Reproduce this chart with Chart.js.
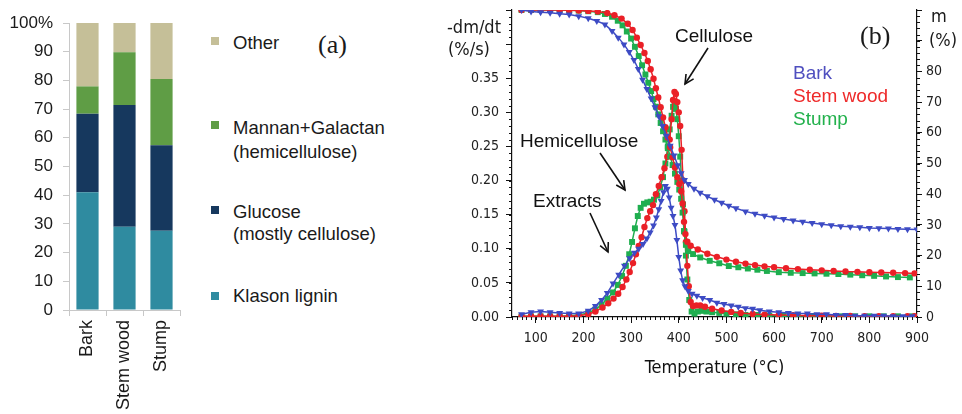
<!DOCTYPE html>
<html>
<head>
<meta charset="utf-8">
<script src="https://cdn.jsdelivr.net/npm/chart.js@4.4.1/dist/chart.umd.min.js"></script>
<style>
  body { margin: 0; background: #fff; width: 962px; height: 414px; overflow: hidden; position: relative;
         font-family: "Liberation Sans", Arial, sans-serif; color: #1a1a1a; }
  canvas { position: absolute; top: 0; }
  #compChart { left: 0; }
  #tgChart { left: 420px; }
  .t { position: absolute; white-space: nowrap; line-height: 1; transform: translateY(-50%); }
  .leg { font-size: 18.5px; }
  .sq { position: absolute; width: 8px; height: 8px; }
  .tah { font-family: "DejaVu Sans Condensed", "DejaVu Sans", sans-serif; font-size: 18px; }
  .ann { font-size: 19px; color: #111; }
  .serif { font-family: "Liberation Serif", "Times New Roman", serif; font-size: 26px; }
  svg { position: absolute; left: 0; top: 0; pointer-events: none; }
</style>
</head>
<body>
<canvas id="compChart" width="200" height="414"></canvas>
<canvas id="tgChart" width="542" height="414"></canvas>

<!-- legend (a) -->
<div class="sq" style="left:211px;top:37px;background:#c5bf98"></div>
<div class="t leg" style="left:233px;top:43px">Other</div>
<div class="sq" style="left:211px;top:121px;background:#5f9d45"></div>
<div class="t leg" style="left:233px;top:128px">Mannan+Galactan</div>
<div class="t leg" style="left:233px;top:152px">(hemicellulose)</div>
<div class="sq" style="left:211px;top:206px;background:#16385e"></div>
<div class="t leg" style="left:233px;top:212px">Glucose</div>
<div class="t leg" style="left:233px;top:234px">(mostly cellulose)</div>
<div class="sq" style="left:211px;top:292px;background:#2f8ba0"></div>
<div class="t leg" style="left:233px;top:296px">Klason lignin</div>
<div class="t serif" style="left:318px;top:45px">(a)</div>

<!-- panel (b) texts -->
<div class="t tah" style="left:447px;top:27px">-dm/dt</div>
<div class="t tah" style="left:448px;top:49px">(%/s)</div>
<div class="t tah" style="left:931px;top:16px">m</div>
<div class="t tah" style="left:929px;top:40px">(%)</div>
<div class="t serif" style="left:860px;top:36px">(b)</div>
<div class="t ann" style="left:793px;top:72px;color:#4f4fbf">Bark</div>
<div class="t ann" style="left:793px;top:95px;color:#ee2a2a">Stem wood</div>
<div class="t ann" style="left:793px;top:118px;color:#22b14c">Stump</div>
<div class="t ann" style="left:675px;top:35px">Cellulose</div>
<div class="t ann" style="left:520px;top:140px">Hemicellulose</div>
<div class="t ann" style="left:533px;top:200px">Extracts</div>

<svg width="962" height="414">
  <defs>
    <marker id="ah" markerWidth="12" markerHeight="12" refX="10" refY="5" orient="auto" markerUnits="userSpaceOnUse">
      <path d="M1,0.5 L10,5 L1,9.5" fill="none" stroke="#111" stroke-width="1.6"/>
    </marker>
  </defs>
  <line x1="708" y1="48" x2="685" y2="84" stroke="#111" stroke-width="1.6" marker-end="url(#ah)"/>
  <line x1="600" y1="153" x2="625" y2="190" stroke="#111" stroke-width="1.6" marker-end="url(#ah)"/>
  <line x1="590" y1="213" x2="608" y2="252" stroke="#111" stroke-width="1.6" marker-end="url(#ah)"/>
</svg>

<script>
// ---- panel (a): composition, % ----
const samples = ['Bark', 'Stem wood', 'Stump'];
const lignin  = [41.0, 29.0, 27.6];
const glucose = [27.4, 42.4, 29.8];
const mannan  = [9.5, 18.4, 23.1];
const other   = [22.1, 10.2, 19.5];

// ---- panel (b): mass m (%) vs temperature ----
const barkMassT = [70, 90, 110, 130, 150, 170, 190, 210, 228, 245, 260, 273, 285, 296, 306, 315, 324, 333, 342, 350,
  358, 366, 374, 382, 390, 398, 405, 412, 420, 432, 445, 460, 475, 490, 505, 520, 540, 560, 580, 600,
  620, 640, 660, 680, 700, 720, 740, 760, 780, 800, 820, 840, 860, 880, 900];
const barkMass = [100, 99.5, 99.3, 99.1, 98.8, 98.5, 98, 97.3, 96.4, 95.3, 93.2, 91, 88.8, 86.3, 83.7, 80.8, 77.3, 74.3, 71.2, 68.3,
  65.4, 62.2, 59, 55.8, 52.6, 49.4, 46.8, 44.6, 43.3, 41.8, 40.5, 39.3, 38.2, 37.2, 36.2, 35.4, 34.4, 33.6, 33, 32.4,
  31.9, 31.4, 31, 30.6, 30.2, 29.9, 29.6, 29.4, 29.2, 29.0, 28.9, 28.8, 28.7, 28.6, 28.5];

const stemMassT = [70, 90, 110, 130, 150, 170, 190, 210, 230, 250, 265, 280, 293, 303, 312, 320, 328, 335, 341, 347,
  352, 357, 362, 367, 372, 377, 382, 387, 392, 397, 401, 405, 408, 411, 414, 418, 425, 440, 460, 480,
  500, 520, 540, 560, 580, 600, 625, 650, 675, 700, 725, 750, 775, 800, 825, 850, 875, 895];
const stemMass = [100, 100, 100, 100, 100, 99.9, 99.8, 99.7, 99.5, 99, 98.3, 97.2, 95.5, 93.5, 91, 88.6, 86, 83.4, 80.7, 77.6,
  74.5, 71.5, 68.3, 65, 61.8, 58.5, 55.3, 52, 48.7, 45.5, 43.3, 41, 37, 31, 27, 24.5, 23.2, 22, 20.6, 19.6,
  18.7, 18, 17.4, 16.9, 16.5, 16.2, 15.9, 15.6, 15.4, 15.2, 15.0, 14.8, 14.7, 14.6, 14.5, 14.4, 14.3, 14.2];

const stumpMassT = [70, 90, 110, 130, 150, 170, 190, 210, 230, 245, 260, 272, 282, 291, 300, 308, 316, 323, 330, 336,
  342, 347, 352, 357, 362, 367, 372, 377, 382, 387, 392, 397, 401, 405, 408, 411, 415, 420, 430, 445,
  465, 485, 505, 525, 545, 565, 585, 610, 635, 660, 685, 710, 735, 760, 785, 810, 835, 860, 885];
const stumpMass = [100, 100, 100, 100, 100, 99.9, 99.8, 99.6, 99.3, 98.7, 97.8, 96.5, 95, 93, 90.7, 88, 85, 82, 79, 76.3,
  73.6, 71, 68.5, 66, 63.2, 60.5, 57.8, 55, 52.3, 49.5, 46.7, 44, 41.5, 38.5, 34, 28, 23.5, 21.5, 20.5, 19.4,
  18.3, 17.5, 16.6, 16.2, 15.8, 15.4, 15.0, 14.6, 14.4, 14.3, 14.2, 14.1, 14.0, 13.8, 13.6, 13.4, 13.2, 13.0, 12.9];

// ---- panel (b): mass loss rate -dm/dt (%/s) vs temperature ----
const barkRateT = [70, 90, 110, 130, 150, 170, 190, 210, 225, 238, 250, 262, 274, 286, 297, 307,
  316, 325, 333, 340, 347, 353, 358, 363, 368, 372, 376, 380, 384, 388, 392, 396,
  400, 404, 408, 413, 420, 428, 438, 450, 465, 480, 495, 510, 525, 540, 555, 570,
  590, 610, 630, 650, 670, 690, 710, 730, 750, 770, 790, 810, 830, 850, 870, 890];
const barkRate = [0.004, 0.007, 0.008, 0.007, 0.006, 0.005, 0.005, 0.009, 0.016, 0.025, 0.035, 0.049, 0.062, 0.075, 0.086, 0.094,
  0.1, 0.107, 0.115, 0.124, 0.134, 0.146, 0.158, 0.17, 0.183, 0.192, 0.188, 0.175, 0.16, 0.148, 0.135, 0.113,
  0.088, 0.068, 0.054, 0.045, 0.038, 0.034, 0.031, 0.028, 0.025, 0.021, 0.019, 0.017, 0.015, 0.013, 0.012, 0.01,
  0.008, 0.007, 0.006, 0.005, 0.005, 0.004, 0.004, 0.003, 0.003, 0.002, 0.002, 0.002, 0.002, 0.001, 0.001, 0.001];

const stemRateT = [70, 90, 110, 130, 150, 170, 190, 210, 225, 240, 252, 263, 273, 282, 290, 297,
  304, 310, 316, 322, 328, 334, 340, 346, 352, 358, 364, 370, 376, 381, 385, 388,
  391, 394, 397, 400, 403, 406, 409, 412, 415, 418, 421, 425, 430, 437, 445, 455,
  470, 490, 510, 530, 555, 580, 610, 640, 670, 700, 730, 760, 790, 820, 850, 880, 895];
const stemRate = [0.001, 0.001, 0.001, 0.001, 0.001, 0.001, 0.002, 0.004, 0.008, 0.014, 0.02, 0.027, 0.034, 0.044, 0.055, 0.066,
  0.079, 0.092, 0.104, 0.117, 0.132, 0.145, 0.155, 0.164, 0.18, 0.192, 0.205, 0.218, 0.235, 0.26, 0.29, 0.318,
  0.33, 0.327, 0.315, 0.3, 0.28, 0.245, 0.2, 0.155, 0.11, 0.075, 0.045, 0.022, 0.016, 0.017, 0.017, 0.015,
  0.012, 0.0095, 0.0075, 0.006, 0.0045, 0.0035, 0.003, 0.0025, 0.002, 0.002, 0.0015, 0.0015, 0.001, 0.001, 0.001, 0.001, 0.001];

const stumpRateT = [70, 90, 110, 130, 150, 170, 190, 210, 225, 238, 250, 262, 272, 281, 289, 296,
  302, 308, 314, 320, 327, 334, 341, 348, 355, 361, 367, 372, 377, 381, 385, 388,
  391, 394, 397, 400, 403, 406, 409, 412, 415, 418, 422, 427, 433, 440, 448, 458,
  470, 485, 500, 520, 540, 565, 590, 620, 650, 680, 710, 740, 770, 800, 830, 860, 890];
const stumpRate = [0.001, 0.001, 0.001, 0.001, 0.001, 0.002, 0.003, 0.006, 0.011, 0.018, 0.027, 0.036, 0.047, 0.06, 0.075, 0.092,
  0.11, 0.13, 0.148, 0.16, 0.166, 0.168, 0.169, 0.172, 0.178, 0.19, 0.205, 0.225, 0.25, 0.275, 0.295, 0.308,
  0.31, 0.305, 0.29, 0.265, 0.235, 0.2, 0.165, 0.125, 0.09, 0.055, 0.025, 0.008, 0.005, 0.008, 0.009, 0.008,
  0.007, 0.006, 0.005, 0.004, 0.003, 0.003, 0.002, 0.002, 0.0015, 0.0015, 0.001, 0.001, 0.001, 0.001, 0.001, 0.001, 0.001];

const BLUE = '#3d4bc4', RED = '#ea2027', GREEN = '#1fae4f';
const TAH = '"DejaVu Sans Condensed", "DejaVu Sans", sans-serif';
const ARIAL = '"Liberation Sans", Arial, sans-serif';

const pts = (xs, ys) => xs.map((x, i) => ({ x: x, y: ys[i] }));

// small outward minor ticks, placed through the scales
const minorTicks = {
  id: 'minorTicks',
  afterDraw(chart, args, opts) {
    const ctx = chart.ctx;
    ctx.save();
    ctx.strokeStyle = '#111';
    ctx.lineWidth = 1;
    ctx.beginPath();
    for (const id of ['x', 'y', 'y1']) {
      const o = opts[id];
      if (!o) continue;
      const s = chart.scales[id];
      const n = Math.round((s.max - s.min) / o.step);
      for (let i = 0; i <= n; i++) {
        const p = Math.round(s.getPixelForValue(s.min + i * o.step)) + 0.5;
        if (id === 'x') { ctx.moveTo(p, s.top); ctx.lineTo(p, s.top + o.len); }
        else if (id === 'y') { ctx.moveTo(s.right, p); ctx.lineTo(s.right - o.len, p); }
        else { ctx.moveTo(s.left, p); ctx.lineTo(s.left + o.len, p); }
      }
    }
    ctx.stroke();
    ctx.restore();
  }
};

// ===== (a) stacked bars =====
new Chart(document.getElementById('compChart'), {
  type: 'bar',
  data: {
    labels: samples,
    datasets: [
      { label: 'Klason lignin', data: lignin, backgroundColor: '#2f8ba0' },
      { label: 'Glucose', data: glucose, backgroundColor: '#16385e' },
      { label: 'Mannan+Galactan', data: mannan, backgroundColor: '#5f9d45' },
      { label: 'Other', data: other, backgroundColor: '#c5bf98' }
    ]
  },
  options: {
    responsive: false,
    animation: false,
    layout: { padding: { top: 23, right: 20, left: 0, bottom: 0 } },
    datasets: { bar: { categoryPercentage: 1, barPercentage: 0.6 } },
    plugins: { legend: { display: false }, tooltip: { enabled: false } },
    scales: {
      x: {
        stacked: true,
        grid: { drawOnChartArea: false, color: '#c8c8c8', tickLength: 6, offset: true },
        border: { color: '#c8c8c8' },
        ticks: { minRotation: 90, maxRotation: 90, autoSkip: false, padding: 4, color: '#1a1a1a',
                 font: { family: ARIAL, size: 18 } },
        afterFit: s => { s.height = 104; s.paddingLeft = 0; s.paddingRight = 0; }
      },
      y: {
        stacked: true, min: 0, max: 100,
        grid: { drawOnChartArea: false, color: '#c8c8c8', tickLength: 6 },
        border: { color: '#c8c8c8' },
        ticks: { stepSize: 10, padding: 10, color: '#1a1a1a', font: { family: ARIAL, size: 17 },
                 callback: v => v === 100 ? '100%' : v },
        afterFit: s => { s.width = 69; s.paddingTop = 0; s.paddingBottom = 0; }
      }
    }
  }
});

// ===== (b) TG / DTG curves =====
function series(xs, ys, color, style, axis) {
  return {
    data: pts(xs, ys), yAxisID: axis,
    borderColor: color, backgroundColor: color, borderWidth: 1.5, tension: 0,
    pointStyle: style, pointRotation: style === 'triangle' ? 180 : 0,
    pointRadius: style === 'rect' ? 4.2 : (style === 'triangle' ? 4 : 3.2),
    pointBorderWidth: 0, pointBackgroundColor: color
  };
}

// major x ticks on whole hundreds only
function hundreds(s) {
  const out = [];
  for (let v = Math.ceil(s.min / 100) * 100; v <= s.max; v += 100) out.push({ value: v });
  s.ticks = out;
}

new Chart(document.getElementById('tgChart'), {
  type: 'line',
  data: {
    datasets: [
      series(barkMassT, barkMass, BLUE, 'triangle', 'y1'),
      series(stemMassT, stemMass, RED, 'circle', 'y1'),
      series(stumpMassT, stumpMass, GREEN, 'rect', 'y1'),
      series(barkRateT, barkRate, BLUE, 'triangle', 'y'),
      series(stemRateT, stemRate, RED, 'circle', 'y'),
      series(stumpRateT, stumpRate, GREEN, 'rect', 'y')
    ]
  },
  options: {
    responsive: false,
    animation: false,
    layout: { padding: { top: 10, left: 0, right: 0, bottom: 0 } },
    plugins: {
      legend: { display: false }, tooltip: { enabled: false },
      minorTicks: { x: { step: 10, len: 3 }, y: { step: 0.01, len: 3 }, y1: { step: 2, len: 3 } }
    },
    scales: {
      x: {
        type: 'linear', min: 50, max: 900,
        afterBuildTicks: hundreds,
        grid: { drawOnChartArea: false, color: '#111', tickLength: 6 },
        border: { color: '#111', width: 1.2 },
        ticks: { stepSize: 100, padding: 7, color: '#222', font: { family: TAH, size: 14 } },
        title: { display: true, text: 'Temperature (°C)', color: '#111',
                 font: { family: TAH, size: 18 }, padding: { top: 0, bottom: 35 } },
        afterFit: s => { s.height = 97; s.paddingLeft = 0; s.paddingRight = 0; }
      },
      y: {
        position: 'left', min: 0, max: 0.45,
        grid: { drawOnChartArea: false, color: '#111', tickLength: 6 },
        border: { color: '#111', width: 1.2 },
        ticks: { stepSize: 0.05, padding: 7, color: '#222', font: { family: TAH, size: 14 },
                 callback: v => v > 0.36 ? '' : v.toFixed(2) },
        afterFit: s => { s.width = 92; s.paddingTop = 0; s.paddingBottom = 0; }
      },
      y1: {
        position: 'right', min: 0, max: 100,
        grid: { drawOnChartArea: false, color: '#111', tickLength: 5 },
        border: { color: '#111', width: 1.2 },
        ticks: { stepSize: 10, padding: 4, color: '#222', font: { family: TAH, size: 14 },
                 callback: v => v > 85 ? '' : v },
        afterFit: s => { s.width = 45; s.paddingTop = 0; s.paddingBottom = 0; }
      }
    }
  },
  plugins: [minorTicks]
});
</script>
</body>
</html>
